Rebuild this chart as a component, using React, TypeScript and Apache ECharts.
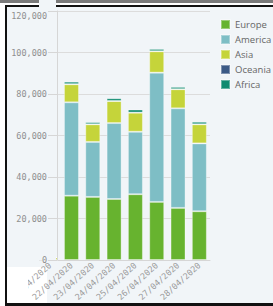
import React, { useEffect, useRef } from "react";
import * as echarts from "echarts";

const categories = ["21/04/2020", "22/04/2020", "23/04/2020", "24/04/2020", "25/04/2020", "26/04/2020", "27/04/2020", "28/04/2020"];
const europe = [0, 31000, 30400, 29400, 31700, 28000, 25100, 23500];
const america = [0, 45000, 26500, 36600, 30100, 62300, 48000, 32700];
const asia = [1200, 8700, 8500, 10600, 9200, 10300, 9200, 9200];
const oceania = [0, 40, 30, 30, 20, 20, 20, 20];
const africa = [0, 1200, 1000, 1300, 1500, 1100, 1100, 1200];
const yTicks = { min: 0, max: 120000, interval: 20000 };

const BG = "#f1f5f8";

export default function App() {
  const ref = useRef<HTMLDivElement>(null);
  useEffect(() => {
    const chart = echarts.init(ref.current!, null, { renderer: "svg" });
    const mono = "DejaVu Sans Mono";
    const seriesDefs = [
      { name: "Europe", data: europe, color: "#67b32f" },
      { name: "America", data: america, color: "#7ebec5" },
      { name: "Asia", data: asia, color: "#c5d43a" },
      { name: "Oceania", data: oceania, color: "#3c5a86" },
      { name: "Africa", data: africa, color: "#0f8b70" },
    ];
    chart.setOption({
      animation: false,
      backgroundColor: "transparent",
      grid: { left: 39.5, right: 63, top: 11, bottom: 46, containLabel: false },
      legend: {
        orient: "vertical",
        left: 215,
        top: 14,
        icon: "rect",
        itemWidth: 9,
        itemHeight: 9,
        itemGap: 4,
        textStyle: { fontSize: 9.5, color: "#666", fontFamily: "Open Sans" },
        data: seriesDefs.map((s) => s.name),
      },
      xAxis: {
        type: "category",
        data: categories,
        axisLine: { show: true, lineStyle: { color: "#d6d6d6" } },
        axisTick: { show: false },
        axisLabel: {
          interval: 0,
          rotate: 42,
          fontSize: 8.5,
          fontFamily: mono,
          color: "#9a9a9a",
          margin: 4,
        },
      },
      yAxis: [
        {
          type: "value",
          ...yTicks,
          axisLine: { show: false },
          axisTick: { show: false },
          axisLabel: { show: false },
          splitLine: { lineStyle: { color: "#dcdcdc" } },
        },
        {
          type: "value",
          position: "left",
          offset: -17.5,
          z: 10,
          ...yTicks,
          axisLine: { show: true, lineStyle: { color: "#d6d6d6" } },
          axisTick: { show: true, length: 9, lineStyle: { color: "#d6d6d6" } },
          axisLabel: {
            margin: 10,
            fontSize: 8.5,
            fontFamily: mono,
            color: "#8f8f8f",
            verticalAlignMaxLabel: "top",
            formatter: (v: number) => v.toLocaleString("en-US"),
          },
          splitLine: { show: false },
        },
      ],
      graphic: [
        {
          type: "rect",
          z: 5,
          shape: { x: 39, y: 0, width: 17, height: 260.5 },
          style: { fill: BG },
          silent: true,
        },
        {
          type: "rect",
          z: 20,
          shape: { x: 7, y: 272, width: 21, height: 31 },
          style: { fill: "#ffffff" },
          silent: true,
        },
      ],
      series: seriesDefs.map((s) => ({
        name: s.name,
        type: "bar",
        stack: "total",
        yAxisIndex: 0,
        barWidth: 15,
        data: s.data,
        itemStyle: {
          color: s.color,
          borderColor: "rgba(255,255,255,0.35)",
          borderWidth: 1,
        },
      })),
    });
    return () => chart.dispose();
  }, []);
  return (
    <div style={{ position: "fixed", left: 0, top: 0, width: 273, height: 306, background: "#fff", overflow: "hidden" }}>
      <div style={{ position: "absolute", left: 0, top: 0, width: 273, height: 3, background: "#7a7a7a" }} />
      <div style={{ position: "absolute", left: 5, top: 5, width: 268, height: 301, background: "#111" }} />
      <div style={{ position: "absolute", left: 7, top: 7, width: 266, height: 296, background: BG }} />
      <div style={{ position: "absolute", left: 7, top: 267, width: 40, height: 36, background: "#fff" }} />
      <div ref={ref} style={{ position: "absolute", left: 0, top: 0, width: 273, height: 306 }} />
    </div>
  );
}
